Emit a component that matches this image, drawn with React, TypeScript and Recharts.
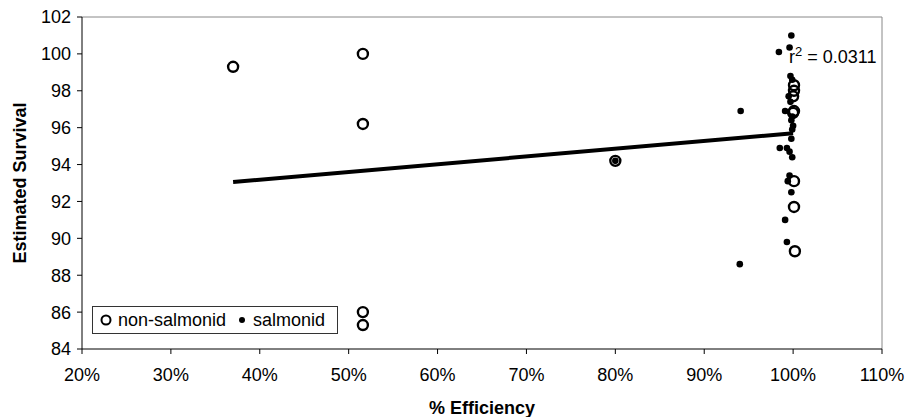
import { ReferenceLine, Scatter, ScatterChart, XAxis, YAxis } from "recharts";

// open circles
const nonSalmonid = [
  { x: 37, y: 99.3 },
  { x: 51.6, y: 100.0 },
  { x: 51.6, y: 96.2 },
  { x: 51.6, y: 86.0 },
  { x: 51.6, y: 85.3 },
  { x: 80, y: 94.2 },
  { x: 100.1, y: 98.3 },
  { x: 100.1, y: 98.0 },
  { x: 100, y: 97.7 },
  { x: 100.1, y: 96.9 },
  { x: 100, y: 96.8 },
  { x: 100.1, y: 93.1 },
  { x: 100.1, y: 91.7 },
  { x: 100.2, y: 89.3 },
];

// filled dots
const salmonid = [
  { x: 80, y: 94.2 },
  { x: 94.1, y: 96.9 },
  { x: 94, y: 88.6 },
  { x: 98.4, y: 100.1 },
  { x: 99.6, y: 100.35 },
  { x: 99.8, y: 101.0 },
  { x: 99.7, y: 98.8 },
  { x: 99.9, y: 98.6 },
  { x: 99.5, y: 97.7 },
  { x: 99.7, y: 97.4 },
  { x: 99.1, y: 96.9 },
  { x: 99.9, y: 96.6 },
  { x: 99.8, y: 96.4 },
  { x: 100, y: 96.1 },
  { x: 99.9, y: 95.9 },
  { x: 99.8, y: 95.4 },
  { x: 98.5, y: 94.9 },
  { x: 99.3, y: 94.9 },
  { x: 99.6, y: 94.7 },
  { x: 99.9, y: 94.4 },
  { x: 99.6, y: 93.4 },
  { x: 99.4, y: 93.1 },
  { x: 99.8, y: 92.5 },
  { x: 99.1, y: 91.0 },
  { x: 99.3, y: 89.8 },
];

// linear trend end points
const trend = [
  { x: 37, y: 93.05 },
  { x: 100, y: 95.7 },
];

const xTicks = [20, 30, 40, 50, 60, 70, 80, 90, 100, 110];
const yTicks = [84, 86, 88, 90, 92, 94, 96, 98, 100, 102];
const rSquared = "0.0311";

const font = "'Liberation Sans', Arial, sans-serif";

const OpenCircle = (props: any) => (
  <circle cx={props.cx} cy={props.cy} r={5} fill="none" stroke="#000" strokeWidth={2.4} />
);
const Dot = (props: any) => <circle cx={props.cx} cy={props.cy} r={3.3} fill="#000" />;

export default function App() {
  return (
    <div style={{ position: "absolute", left: 0, top: 0, width: 907, height: 417, background: "#fff", fontFamily: font }}>
      <ScatterChart width={907} height={417} margin={{ top: 17, right: 25, bottom: 0, left: 0 }}>
        <XAxis
          type="number"
          dataKey="x"
          domain={[20, 110]}
          ticks={xTicks}
          tickFormatter={(v) => `${v}%`}
          height={68}
          tickSize={5}
          tickMargin={14}
          axisLine={{ stroke: "#000" }}
          tickLine={{ stroke: "#000" }}
          tick={{ fill: "#000", fontSize: 18, fontFamily: font }}
          label={() => (
            <text x={482} y={408} textAnchor="middle" dominantBaseline="central" fontSize={18} fontWeight="bold" fontFamily={font} fill="#000">
              % Efficiency
            </text>
          )}
        />
        <YAxis
          type="number"
          dataKey="y"
          domain={[84, 102]}
          ticks={yTicks}
          width={82}
          tickSize={5}
          tickMargin={6}
          axisLine={{ stroke: "#000" }}
          tickLine={{ stroke: "#000" }}
          tick={{ fill: "#000", fontSize: 18, fontFamily: font }}
          label={() => (
            <text x={20} y={183} transform="rotate(-90 20 183)" textAnchor="middle" dominantBaseline="central" fontSize={18} fontWeight="bold" fontFamily={font} fill="#000">
              Estimated Survival
            </text>
          )}
        />
        <ReferenceLine y={102} stroke="#888" />
        <ReferenceLine x={110} stroke="#888" />
        <Scatter data={trend} line={{ stroke: "#000", strokeWidth: 4 }} shape={() => <g />} isAnimationActive={false} />
        <Scatter name="salmonid" data={salmonid} shape={Dot} isAnimationActive={false} />
        <Scatter name="non-salmonid" data={nonSalmonid} shape={OpenCircle} isAnimationActive={false} />
      </ScatterChart>

      <div style={{ position: "absolute", left: 789, top: 46, fontSize: 18, color: "#000", whiteSpace: "nowrap", lineHeight: "22px" }}>
        r<sup style={{ fontSize: 13, verticalAlign: "top", position: "relative", top: -5 }}>2</sup> = {rSquared}
      </div>

      <div
        style={{
          position: "absolute",
          left: 92,
          top: 306,
          width: 244,
          height: 26,
          border: "1px solid #333",
          background: "#fff",
          display: "flex",
          alignItems: "center",
          fontSize: 18,
          color: "#000",
          whiteSpace: "nowrap",
        }}
      >
        <svg width={16} height={16} style={{ marginLeft: 6, marginRight: 3 }}>
          <circle cx={7} cy={8} r={4.5} fill="none" stroke="#000" strokeWidth={2} />
        </svg>
        <span>non-salmonid</span>
        <svg width={12} height={12} style={{ marginLeft: 10, marginRight: 5 }}>
          <circle cx={6} cy={6} r={3} fill="#000" />
        </svg>
        <span>salmonid</span>
      </div>
    </div>
  );
}
